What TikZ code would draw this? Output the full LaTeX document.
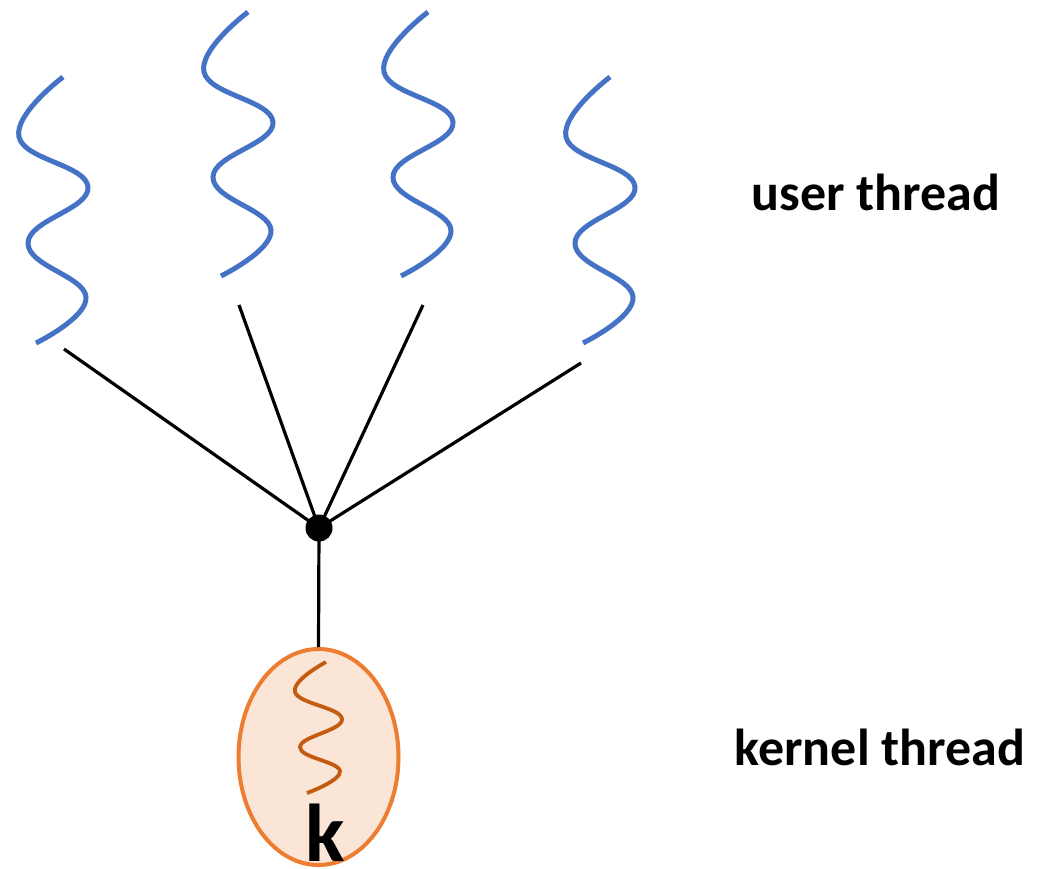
\documentclass[tikz,border=0pt]{standalone}
\usepackage{fontspec}
\setmainfont{Carlito}
\usetikzlibrary{shapes.geometric}
\definecolor{wblue}{HTML}{4472C4}
\definecolor{korange}{HTML}{ED7D31}
\definecolor{kfill}{HTML}{FBE5D6}
\definecolor{kwave}{HTML}{C55A11}
\begin{document}
\begin{tikzpicture}[x=1pt,y=-1pt,
  uwave/.style={wblue,line width=5pt,line cap=butt},
  kwv/.style={kwave,line width=3.8pt},
  link/.style={black,line width=3.2pt},
  lbl/.style={font=\fontsize{52}{52}\selectfont\bfseries,anchor=base,inner sep=0pt}]
\useasboundingbox (0,0) rectangle (1056,868);
% user thread waves
\draw[uwave] plot[smooth,tension=0.75] coordinates {(63,77) (19,137) (88,187) (28,243) (86,297) (36,343)};
\draw[uwave] plot[smooth,tension=0.75] coordinates {(248,12) (204,72) (273,122) (213,177) (271,230) (221,276)};
\draw[uwave] plot[smooth,tension=0.75] coordinates {(428,12) (384,72) (453,122) (393,177) (451,230) (401,276)};
\draw[uwave] plot[smooth,tension=0.75] coordinates {(610,77) (566,137) (635,187) (575,243) (633,297) (583,343)};
% connection point
\node[circle,fill=black,inner sep=0pt,minimum size=27pt] (hub) at (319,528) {};
\coordinate (u1) at (64,349);
\coordinate (u2) at (239,305);
\coordinate (u3) at (423,305);
\coordinate (u4) at (581,363);
\draw[link] (u1) -- (hub.center);
\draw[link] (u2) -- (hub.center);
\draw[link] (u3) -- (hub.center);
\draw[link] (u4) -- (hub.center);
% kernel thread
\node[ellipse,draw=korange,fill=kfill,line width=4pt,minimum width=160pt,minimum height=216pt,inner sep=0pt] (kern) at (318.5,757) {};
\draw[link] (hub.center) -- (kern.north);
\draw[kwv] plot[smooth,tension=0.75] coordinates {(326,662) (295,692) (342,719) (300,747) (340,771) (307,793)};
\node[font=\fontsize{82}{82}\selectfont\bfseries,anchor=base,inner sep=0pt] (k) at (325,861) {k};
% labels
\node[lbl] (ul) at (876,210) {user thread};
\node[lbl] (kl) at (880,765) {kernel thread};
\end{tikzpicture}
\end{document}
